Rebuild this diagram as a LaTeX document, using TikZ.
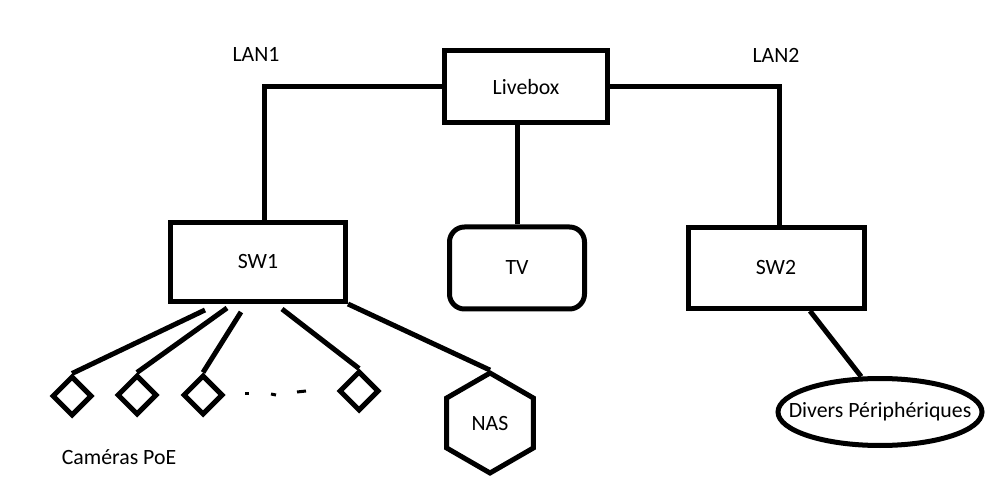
\documentclass[tikz,border=0pt]{standalone}
\usepackage{fontspec}
\setmainfont{Carlito}
\usetikzlibrary{shapes.geometric,calc}
\tikzset{
  lbl/.style={font=\fontsize{10.9}{13}\selectfont},
  boite/.style={draw, rectangle, inner sep=0pt, lbl},
  camera/.style={draw, diamond, inner sep=0pt, minimum width=20pt, minimum height=20pt},
}
\begin{document}
\begin{tikzpicture}[x=0.5pt, y=-0.5pt, line width=2.5pt]
  \useasboundingbox (0,0) rectangle (1000,480);
  % boîtier et équipements
  \node[boite, minimum width=81.5pt, minimum height=36pt] (livebox) at (526,87) {Livebox};
  \node[boite, minimum width=87.5pt, minimum height=39.5pt] (sw1) at (258,262) {SW1};
  \node[boite, rounded corners=7.5pt, minimum width=67.5pt, minimum height=41pt] (tv) at (517,268) {TV};
  \node[boite, minimum width=88pt, minimum height=40.5pt] (sw2) at (776,268) {SW2};
  \node[draw, ellipse, inner sep=0pt, minimum width=102pt, minimum height=33.5pt,
        label={[lbl]center:Divers Périphériques}] (divers) at (880,412) {};
  \node[draw, regular polygon, regular polygon sides=6, shape border rotate=30,
        inner sep=0pt, minimum size=50pt, lbl] (nas) at (490,423) {NAS};
  % étiquettes
  \node[lbl, anchor=base] (lan1) at (256,62) {LAN1};
  \node[lbl, anchor=base] (lan2) at (776,63) {LAN2};
  \node[lbl, anchor=base] (cams) at (119,464) {Caméras PoE};
  % liaisons depuis la Livebox
  \draw (livebox.west) -| ([xshift=3pt]sw1.north);
  \draw (livebox.east) -| ([xshift=1.5pt]sw2.north);
  \draw (tv.north) -- (tv.north |- livebox.south);
  \draw ([xshift=17pt]sw2.south) -- (divers.118);
  % caméras
  \foreach \n/\x/\y in {1/72/396, 2/137/395, 3/203/395, 4/359/391}{
    \node[camera] (cam\n) at (\x,\y) {};
  }
  \foreach \n/\dx/\dy in {1/-53/6, 2/-31/4, 3/-17/8, 4/24/5}{
    \draw ($(sw1.south)+(\dx,\dy)$) -- (cam\n.north);
  }
  \draw (sw1.south east) -- (nas.north);
  % pointillés entre les caméras
  \draw[line width=1.5pt] (245,393) -- (249,393);
  \draw[line width=1.5pt] (271,394) -- (276,395);
  \draw[line width=1.5pt] (297,392) -- (306,391);
\end{tikzpicture}
\end{document}
